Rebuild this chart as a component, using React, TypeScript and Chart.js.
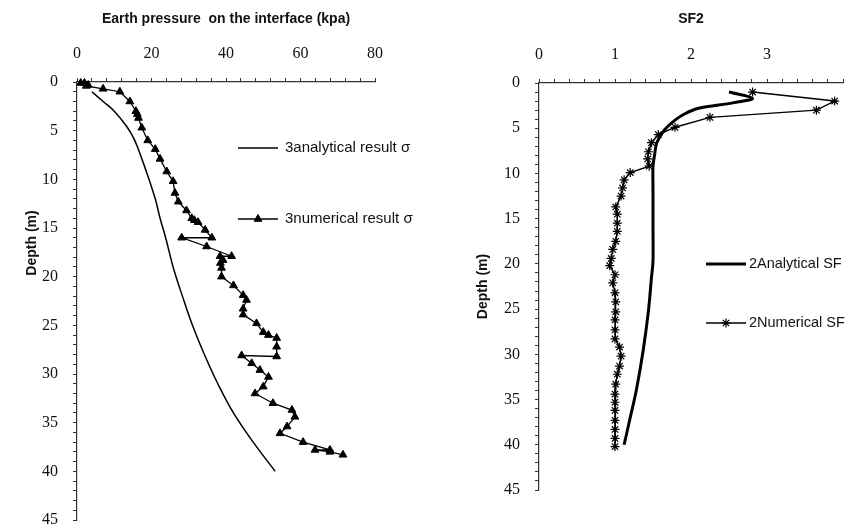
import React, { useEffect, useRef } from 'react';
import { Chart, registerables } from 'chart.js';

Chart.register(...registerables);

// ---------- tick labels ----------
const leftXTickLabels = [0, 20, 40, 60, 80];
const depthTickLabels = [0, 5, 10, 15, 20, 25, 30, 35, 40, 45];
const rightXTickLabels = [0, 1, 2, 3];

// ---------- left panel: earth pressure (kPa) ----------
const analyticalDepth = [1, 2, 3, 4.6, 6, 8, 9.4, 12, 14, 16, 19, 22, 25, 28, 31, 34, 37, 40];
const analyticalSigma = [4, 7, 10, 13.4, 15.5, 17.5, 18.8, 21, 22.3, 23.8, 25.8, 28.3, 31, 34.2, 37.8, 42, 47.3, 53.2];

const numericalDepth = [0.1, 0.1, 0.3, 0.4, 0.7, 1, 2, 3, 3.3, 3.7, 4.7, 6, 6.9, 7.9, 9.2, 10.2, 11.4, 12.3, 13.2, 14, 14.2, 14.4, 15.2, 16, 16, 16.9, 17.9, 17.9, 18.3, 18.6, 19.1, 20, 20.9, 21.9, 22.4, 23.3, 23.9, 24.8, 25.7, 26, 26.3, 27.2, 28.2, 28.1, 28.9, 29.6, 30.3, 31.3, 32, 33, 33.7, 34.4, 35.4, 36.1, 37, 37.8, 37.8, 38, 38.3];
const numericalSigma = [1, 2, 3, 2.5, 7, 11.5, 14.2, 15.8, 16.2, 16.5, 17.4, 19, 21, 22.3, 24.1, 25.8, 26.3, 27.2, 29.4, 30.8, 31.5, 32.5, 34.4, 36.2, 28.1, 34.8, 41.5, 38.4, 39.2, 38.5, 38.8, 38.8, 42, 44.6, 45.5, 44.6, 44.6, 48.2, 50, 51.4, 53.6, 53.6, 53.6, 44.2, 46.9, 49.1, 51.4, 50, 47.8, 52.6, 57.7, 58.5, 56.4, 54.5, 60.7, 67.9, 63.9, 67.9, 71.4];

// ---------- right panel: SF2 ----------
const sfAnalyticalDepth = [1, 1.7, 2.2, 2.8, 3.4, 4.1, 5.2, 6.6, 8, 9.2, 12, 16, 19.7, 21.5, 25.2, 29.6, 34, 37, 40];
const sfAnalyticalValue = [2.5, 2.81, 2.55, 2.1, 1.92, 1.79, 1.65, 1.55, 1.52, 1.5, 1.5, 1.5, 1.5, 1.48, 1.44, 1.37, 1.28, 1.2, 1.12];

const sfNumericalDepth = [1, 2, 3, 3.8, 4.9, 5.7, 6.6, 7.6, 8.4, 9.2, 9.9, 10.7, 11.6, 12.5, 13.7, 14.5, 15.5, 16.4, 17.5, 18.4, 19.4, 20.2, 21.2, 22.1, 23.2, 24.2, 25.3, 26.2, 27.3, 28.3, 29.2, 30.2, 31.3, 32.2, 33.3, 34.4, 35.3, 36.2, 37.3, 38.3, 39.3, 40.2];
const sfNumericalValue = [2.81, 3.89, 3.65, 2.25, 1.79, 1.57, 1.48, 1.44, 1.43, 1.45, 1.2, 1.12, 1.1, 1.08, 1.01, 1.03, 1.03, 1.03, 1.01, 0.97, 0.95, 0.93, 1.0, 0.97, 1.0, 1.01, 1.01, 1.0, 1.0, 1.0, 1.06, 1.08, 1.06, 1.03, 1.01, 1.0, 1.0, 1.0, 1.0, 1.0, 1.0, 1.0];

const SERIF = "'Liberation Serif', 'Times New Roman', serif";
const SANS = "'Liberation Sans', Arial, sans-serif";
const INK = '#111';

function toPoints(xs: number[], ys: number[]) {
  return xs.map((x, i) => ({ x, y: ys[i] }));
}

function isLabel(v: number, list: number[]) {
  return list.some((l) => Math.abs(l - v) < 1e-6);
}

function drawMarker(ctx: CanvasRenderingContext2D, style: string, x: number, y: number, r: number) {
  ctx.beginPath();
  if (style === 'triangle') {
    let rad = 0;
    ctx.moveTo(x + Math.sin(rad) * r, y - Math.cos(rad) * r);
    rad += (2 * Math.PI) / 3;
    ctx.lineTo(x + Math.sin(rad) * r, y - Math.cos(rad) * r);
    rad += (2 * Math.PI) / 3;
    ctx.lineTo(x + Math.sin(rad) * r, y - Math.cos(rad) * r);
    ctx.closePath();
    ctx.fill();
    ctx.stroke();
  } else if (style === 'star') {
    for (let k = 0; k < 4; k++) {
      const a = (k * Math.PI) / 4;
      ctx.moveTo(x - Math.cos(a) * r, y - Math.sin(a) * r);
      ctx.lineTo(x + Math.cos(a) * r, y + Math.sin(a) * r);
    }
    ctx.stroke();
  }
}

type LegendItem = { index: number; y: number };
function makeLegendPlugin(x: number, len: number, gap: number, items: LegendItem[], font: string) {
  return {
    id: 'sideLegend',
    afterDraw(chart: any) {
      const ctx: CanvasRenderingContext2D = chart.ctx;
      ctx.save();
      items.forEach((it) => {
        const ds = chart.data.datasets[it.index];
        ctx.strokeStyle = ds.borderColor;
        ctx.lineWidth = ds.borderWidth;
        ctx.beginPath();
        ctx.moveTo(x, it.y);
        ctx.lineTo(x + len, it.y);
        ctx.stroke();
        if (ds.pointRadius > 0) {
          ctx.fillStyle = ds.pointBackgroundColor;
          ctx.strokeStyle = ds.pointBorderColor;
          ctx.lineWidth = ds.pointBorderWidth;
          drawMarker(ctx, ds.pointStyle, x + len / 2, it.y, ds.pointRadius);
        }
        ctx.fillStyle = INK;
        ctx.font = font;
        ctx.textAlign = 'left';
        ctx.textBaseline = 'middle';
        ctx.fillText(ds.label, x + len + gap, it.y);
      });
      ctx.restore();
    },
  };
}

function makeYTitlePlugin(text: string, x: number, y: number, font: string) {
  return {
    id: 'yTitle',
    afterDraw(chart: any) {
      const ctx: CanvasRenderingContext2D = chart.ctx;
      ctx.save();
      ctx.translate(x, y);
      ctx.rotate(-Math.PI / 2);
      ctx.font = font;
      ctx.fillStyle = INK;
      ctx.textAlign = 'center';
      ctx.textBaseline = 'middle';
      ctx.fillText(text, 0, 0);
      ctx.restore();
    },
  };
}

function axisCommon() {
  return {
    grid: { display: true, drawOnChartArea: false, drawTicks: true, tickLength: 4, color: '#333', lineWidth: 1 },
    border: { display: true, color: '#333', width: 1.2 },
  };
}

function fixSize(prop: 'width' | 'height', value: number) {
  return (s: any) => {
    s[prop] = value;
    s.paddingTop = 0;
    s.paddingBottom = 0;
    s.paddingLeft = 0;
    s.paddingRight = 0;
  };
}

export default function App() {
  const leftRef = useRef<HTMLCanvasElement | null>(null);
  const rightRef = useRef<HTMLCanvasElement | null>(null);

  useEffect(() => {
    if (!leftRef.current || !rightRef.current) return;

    const titleFont = { family: SANS, size: 14, weight: 'bold' as const, lineHeight: 1.2 };
    const tickFont = { family: SERIF, size: 16 };

    const left = new Chart(leftRef.current, {
      type: 'scatter',
      data: {
        datasets: [
          {
            label: '3analytical result σ',
            data: toPoints(analyticalSigma, analyticalDepth),
            showLine: true,
            borderColor: '#000',
            borderWidth: 1.5,
            pointRadius: 0,
            tension: 0.4,
            fill: false,
          } as any,
          {
            label: '3numerical result σ',
            data: toPoints(numericalSigma, numericalDepth),
            showLine: true,
            borderColor: '#000',
            borderWidth: 1.3,
            pointStyle: 'triangle',
            pointRadius: 4.5,
            pointBackgroundColor: '#000',
            pointBorderColor: '#000',
            pointBorderWidth: 1,
            tension: 0,
            clip: false,
          } as any,
        ],
      },
      options: {
        animation: false,
        responsive: false,
        layout: { padding: { left: 0, right: 45, top: 0, bottom: 7 } },
        plugins: {
          legend: { display: false },
          tooltip: { enabled: false },
          title: {
            display: true,
            text: 'Earth pressure  on the interface (kpa)',
            font: titleFont,
            color: INK,
            fullSize: false,
            padding: { top: 10.6, bottom: 0 },
          },
        },
        scales: {
          x: {
            type: 'linear',
            position: 'top',
            min: 0,
            max: 80,
            ...axisCommon(),
            ticks: {
              stepSize: 4,
              autoSkip: false,
              maxRotation: 0,
              minRotation: 0,
              padding: 15,
              color: INK,
              font: tickFont,
              callback: (v: any) => (isLabel(Number(v), leftXTickLabels) ? String(Math.round(Number(v))) : ''),
            },
            afterFit: fixSize('height', 82 - 27.4),
          },
          y: {
            type: 'linear',
            reverse: true,
            min: 0,
            max: 45,
            ...axisCommon(),
            ticks: {
              stepSize: 1,
              autoSkip: false,
              padding: 15,
              color: INK,
              font: tickFont,
              callback: (v: any) => (isLabel(Number(v), depthTickLabels) ? String(Math.round(Number(v))) : ''),
            },
            afterFit: fixSize('width', 77),
          },
        },
      } as any,
      plugins: [
        makeLegendPlugin(238, 40, 7, [
          { index: 0, y: 148 },
          { index: 1, y: 219 },
        ], `15px ${SANS}`),
        makeYTitlePlugin('Depth (m)', 32, 243, `bold 14px ${SANS}`),
      ] as any,
    });

    const right = new Chart(rightRef.current, {
      type: 'scatter',
      data: {
        datasets: [
          {
            label: '2Analytical SF',
            data: toPoints(sfAnalyticalValue, sfAnalyticalDepth),
            showLine: true,
            borderColor: '#000',
            borderWidth: 3,
            pointRadius: 0,
            tension: 0.3,
            fill: false,
          } as any,
          {
            label: '2Numerical SF',
            data: toPoints(sfNumericalValue, sfNumericalDepth),
            showLine: true,
            borderColor: '#000',
            borderWidth: 1.5,
            pointStyle: 'star',
            pointRadius: 4.5,
            pointBackgroundColor: '#000',
            pointBorderColor: '#000',
            pointBorderWidth: 1.2,
            tension: 0,
            clip: false,
          } as any,
        ],
      },
      options: {
        animation: false,
        responsive: false,
        layout: { padding: { left: 0, right: 7, top: 0, bottom: 37 } },
        plugins: {
          legend: { display: false },
          tooltip: { enabled: false },
          title: {
            display: true,
            text: 'SF2',
            font: titleFont,
            color: INK,
            fullSize: false,
            padding: { top: 10.6, bottom: 0 },
          },
        },
        scales: {
          x: {
            type: 'linear',
            position: 'top',
            min: 0,
            max: 4,
            ...axisCommon(),
            ticks: {
              stepSize: 0.2,
              autoSkip: false,
              maxRotation: 0,
              minRotation: 0,
              padding: 15,
              color: INK,
              font: tickFont,
              callback: (v: any) => (isLabel(Number(v), rightXTickLabels) ? String(Math.round(Number(v))) : ''),
            },
            afterFit: fixSize('height', 83 - 27.4),
          },
          y: {
            type: 'linear',
            reverse: true,
            min: 0,
            max: 45,
            ...axisCommon(),
            title: {
              display: true,
              text: 'Depth (m)',
              color: INK,
              font: { family: SANS, size: 14, weight: 'bold', lineHeight: 1.2 },
              padding: { top: 54.6, bottom: 0 },
            },
            ticks: {
              stepSize: 1,
              autoSkip: false,
              padding: 15,
              color: INK,
              font: tickFont,
              callback: (v: any) => (isLabel(Number(v), depthTickLabels) ? String(Math.round(Number(v))) : ''),
            },
            afterFit: fixSize('width', 119),
          },
        },
      } as any,
      plugins: [
        makeLegendPlugin(286, 40, 3, [
          { index: 0, y: 264 },
          { index: 1, y: 323 },
        ], `14.5px ${SANS}`),
      ] as any,
    });

    return () => {
      left.destroy();
      right.destroy();
    };
  }, []);

  return (
    <div style={{ position: 'absolute', left: 0, top: 0, width: 850, height: 527, background: '#fff', overflow: 'hidden' }}>
      <canvas ref={leftRef} width={420} height={527} style={{ position: 'absolute', left: 0, top: 0 }} />
      <canvas ref={rightRef} width={430} height={527} style={{ position: 'absolute', left: 420, top: 0 }} />
    </div>
  );
}
